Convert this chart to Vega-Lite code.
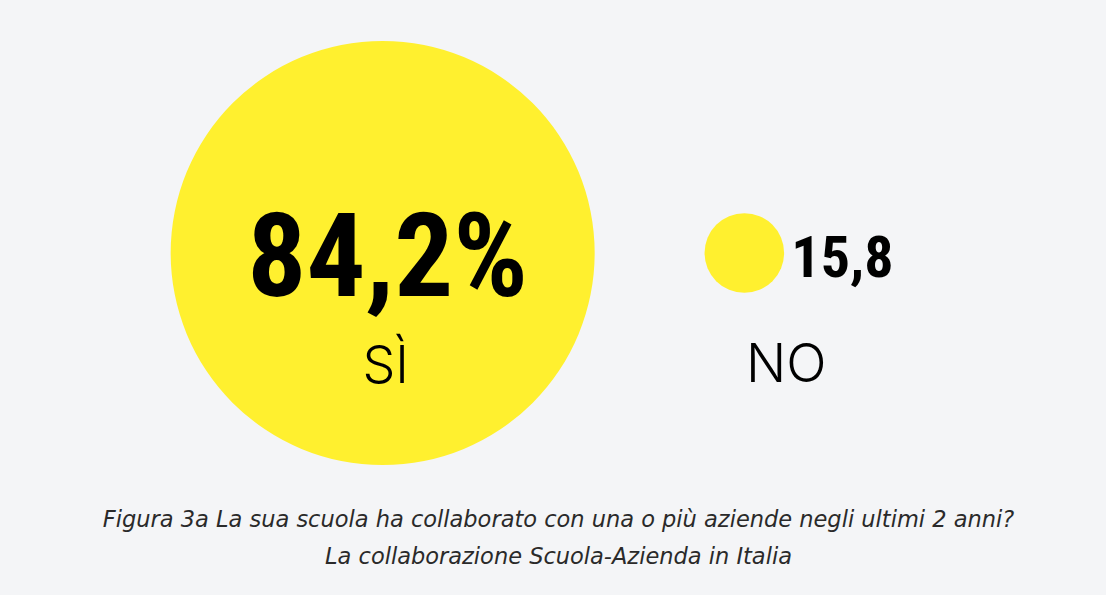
{
  "$schema": "https://vega.github.io/schema/vega-lite/v6.json",
  "width": 1085,
  "height": 506,
  "autosize": "none",
  "padding": {"left": 21, "right": 0, "top": 0, "bottom": 89},
  "background": "#f4f5f7",
  "config": {"view": {"stroke": null}},
  "title": {
    "text": ["Figura 3a La sua scuola ha collaborato con una o più aziende negli ultimi 2 anni?", "La collaborazione Scuola-Azienda in Italia"],
    "orient": "bottom",
    "anchor": "middle",
    "dx": -5,
    "offset": 3,
    "font": "DejaVu Sans",
    "fontSize": 22.5,
    "fontStyle": "italic",
    "fontWeight": "normal",
    "lineHeight": 37,
    "color": "#2a2a2a"
  },
  "data": {
    "values": [
      {"risposta": "SÌ", "valore": 84.2, "etichetta": "84,2%"},
      {"risposta": "NO", "valore": 15.8, "etichetta": "15,8"}
    ]
  },
  "encoding": {
    "x": {"field": "risposta", "type": "nominal", "scale": {"type": "point", "domain": ["SÌ", "NO"], "padding": 1.011}, "axis": null}
  },
  "layer": [
    {
      "mark": {"type": "circle", "color": "#fff02f", "opacity": 1},
      "encoding": {
        "size": {"field": "valore", "type": "quantitative", "scale": {"type": "pow", "exponent": 2, "domain": [0, 100], "range": [0, 253600]}, "legend": null}
      }
    },
    {
      "transform": [{"filter": "datum.risposta === 'SÌ'"}],
      "mark": {"type": "text", "font": "Noto Sans ExtraCondensed, Noto Sans Condensed, Roboto Condensed, Liberation Sans Narrow, Arial Narrow, DejaVu Sans Condensed, sans-serif", "fontWeight": "bold", "fontSize": 117, "align": "center", "baseline": "alphabetic", "dx": 5, "dy": 43, "color": "#000000"},
      "encoding": {"text": {"field": "etichetta"}}
    },
    {
      "transform": [{"filter": "datum.risposta === 'NO'"}],
      "mark": {"type": "text", "font": "Noto Sans ExtraCondensed, Noto Sans Condensed, Roboto Condensed, Liberation Sans Narrow, Arial Narrow, DejaVu Sans Condensed, sans-serif", "fontWeight": "bold", "fontSize": 58, "align": "left", "baseline": "alphabetic", "dx": 47, "dy": 24, "color": "#000000"},
      "encoding": {"text": {"field": "etichetta"}}
    },
    {
      "transform": [{"filter": "datum.risposta === 'SÌ'"}],
      "mark": {"type": "text", "font": "Inter", "fontWeight": 300, "fontSize": 52, "align": "center", "baseline": "alphabetic", "dx": 3, "dy": 130, "color": "#000000"},
      "encoding": {"text": {"field": "risposta"}}
    },
    {
      "transform": [{"filter": "datum.risposta === 'NO'"}],
      "mark": {"type": "text", "font": "Inter", "fontWeight": 300, "fontSize": 53, "align": "center", "baseline": "alphabetic", "dx": 42, "dy": 129, "color": "#000000"},
      "encoding": {"text": {"field": "risposta"}}
    }
  ]
}
